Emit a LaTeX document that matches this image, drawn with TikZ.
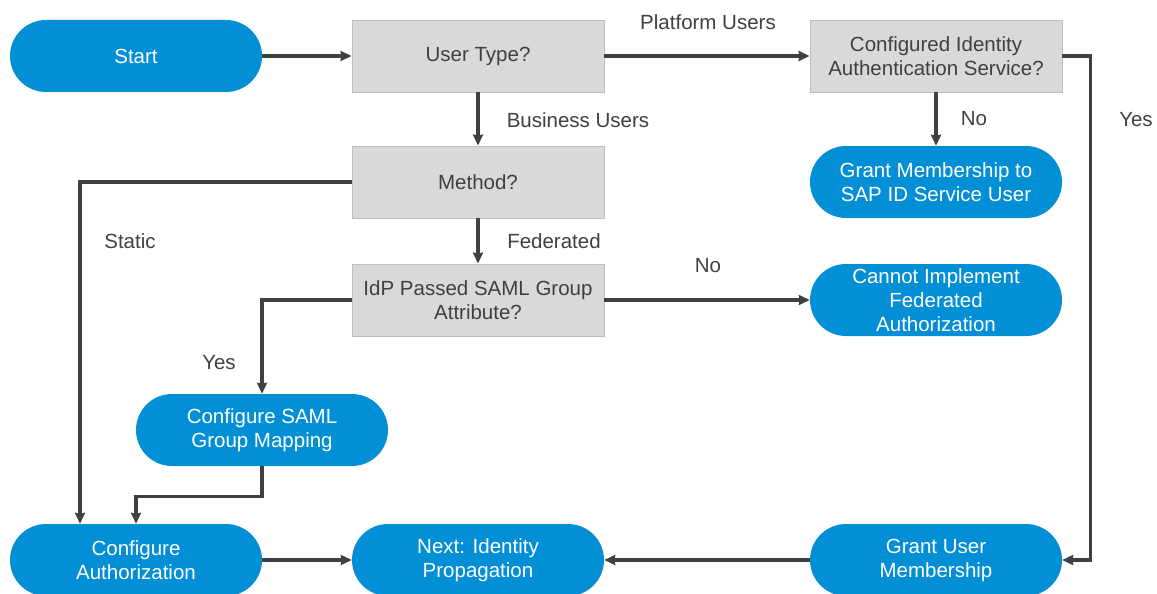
\documentclass[tikz,border=0pt]{standalone}
\usepackage{fontspec}
\setmainfont{Liberation Sans}
\usetikzlibrary{arrows.meta}
\definecolor{sapblue}{RGB}{3,143,214}
\definecolor{boxgray}{RGB}{217,217,217}
\definecolor{boxline}{RGB}{190,190,190}
\definecolor{inkgray}{RGB}{64,64,64}
\tikzset{
  pill/.style={fill=sapblue,text=white,rounded corners=36pt,minimum width=252pt,minimum height=72pt,align=center,inner sep=0pt},
  decision/.style={fill=boxgray,draw=boxline,line width=0.8pt,text=inkgray,minimum width=252pt,minimum height=72pt,align=center,inner sep=0pt},
  flow/.style={draw=inkgray,line width=3.2pt,-{Stealth[length=11pt,width=10pt,inset=1pt]}},
  lbl/.style={text=inkgray}
}
\begin{document}
\begin{tikzpicture}[x=1pt,y=-1pt,font=\fontsize{20.5}{24}\selectfont]
            \useasboundingbox (0,0) rectangle (1157,594);
            % first row
            \node[pill] (start) at (136,56) {Start};
            \node[decision] (usertype) at (478,56) {User Type?};
            \node[decision] (ias) at (936,56) {Configured Identity\\Authentication Service?};
            % second row
            \node[decision] (method) at (478,182) {Method?};
            \node[pill] (grantsap) at (936,182) {Grant Membership to\\SAP ID Service User};
            % third row
            \node[decision] (idp) at (478,300) {IdP Passed SAML Group\\Attribute?};
            \node[pill] (cannot) at (936,300) {Cannot Implement\\Federated\\Authorization};
            \node[pill] (samlmap) at (262,430) {Configure SAML\\Group Mapping};
            % last row
            \node[pill] (confauth) at (136,560) {Configure\\Authorization};
            \node[pill] (nextprop) at (478,560) {Next: Identity\\Propagation};
            \node[pill] (grantuser) at (936,560) {Grant User\\Membership};
            % connectors
            \draw[flow] (start) -- (usertype);
            \draw[flow] (usertype) -- (ias);
            \draw[flow] (usertype) -- (method);
            \draw[flow] (ias) -- (grantsap);
            \draw[flow] (ias.east) -- ++(28,0) |- (grantuser.east);
            \draw[flow] (method.west) -| ([xshift=-56pt]confauth.north);
            \draw[flow] (method) -- (idp);
            \draw[flow] (idp) -- (cannot);
            \draw[flow] (idp.west) -| (samlmap.north);
            \draw[flow] (samlmap.south) -- ++(0,30) -| (confauth.north);
            \draw[flow] (confauth) -- (nextprop);
            \draw[flow] (grantuser) -- (nextprop);
            % labels
            \node[lbl] (platform) at (708,22) {Platform Users};
            \node[lbl] (business) at (578,120) {Business Users};
            \node[lbl] (nosap) at (974,119) {No};
            \node[lbl] (yesias) at (1136,120) {Yes};
            \node[lbl] (static) at (130,241) {Static};
            \node[lbl] (federated) at (554,241) {Federated};
            \node[lbl] (noidp) at (708,266) {No};
            \node[lbl] (yesidp) at (219,363) {Yes};
         \end{tikzpicture}
\end{document}
